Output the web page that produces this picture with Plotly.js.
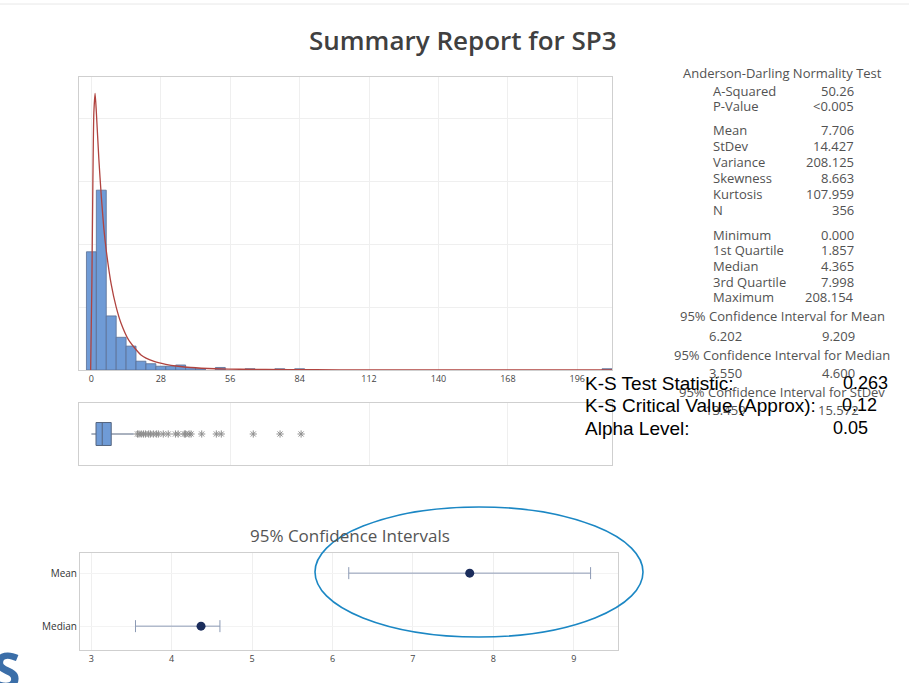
<!DOCTYPE html>
<html>
<head>
<meta charset="utf-8">
<script src="https://cdn.plot.ly/plotly-3.0.1.min.js"></script>
<style>html,body{margin:0;padding:0;background:#fff;}#chart{width:909px;height:683px;}</style>
</head>
<body>
<div id="chart"></div>
<script>
// ---------- data ----------
const chartTitle = "Summary Report for SP3";
// histogram (bin centres, width 4) and frequencies
const binCenters = [0, 4, 8, 12, 16, 20, 24, 28, 32, 36, 40, 44, 52, 64, 76, 84, 208];
const binCounts  = [94, 143, 43, 26, 19, 7, 5, 3, 3, 4, 2, 1, 2, 1, 1, 1, 1];
// fitted density curve (scaled to frequency)
const fitX = [-0.3, 0.2, 0.6, 1.0, 1.5, 2.0, 3.0, 4.0, 5.0, 6.0, 8.0, 10, 12, 15, 20, 25, 30, 35, 40, 50, 60, 80, 100, 140, 210];
const fitY = [0, 70, 150, 205, 220, 205, 168, 138, 113, 95, 68, 50, 37, 24, 12, 7, 4.5, 3, 2, 1, 0.6, 0.3, 0.15, 0.05, 0.02];
const histTicks = [0, 28, 56, 84, 112, 140, 168, 196];
// box plot statistics
const boxMin = 0.0, boxQ1 = 1.857, boxMedian = 4.365, boxQ3 = 7.998, boxUpperWhisker = 17.1;
const outliers = [18.6, 19.2, 20.1, 21.0, 21.8, 23.1, 23.8, 25.0, 26.2, 27.0, 29.0, 31.0, 33.9, 35.0, 37.5, 38.0, 39.4, 40.2, 44.5, 50.4, 52.4, 65.3, 76.1, 84.6];
// confidence intervals
const ciCategories = ["Median", "Mean"];
const ciEstimate = [4.365, 7.706];
const ciLower = [3.550, 6.202];
const ciUpper = [4.600, 9.209];
const ciTicks = [3, 4, 5, 6, 7, 8, 9];
// statistics table
const adTitle = "Anderson-Darling Normality Test";
const statLabels = ["A-Squared", "P-Value", "Mean", "StDev", "Variance", "Skewness", "Kurtosis", "N", "Minimum", "1st Quartile", "Median", "3rd Quartile", "Maximum"];
const statValues = ["50.26", "<0.005", "7.706", "14.427", "208.125", "8.663", "107.959", "356", "0.000", "1.857", "4.365", "7.998", "208.154"];
const ciTableTitles = ["95% Confidence Interval for Mean", "95% Confidence Interval for Median", "95% Confidence Interval for StDev"];
const ciTableLow = ["6.202", "3.550", "13.459"];
const ciTableHigh = ["9.209", "4.600", "15.572"];
// K-S overlay
const ksLabels = ["K-S Test Statistic:", "K-S Critical Value (Approx):", "Alpha Level:"];
const ksValues = ["0.263", "0.12", "0.05"];
const ciPanelTitle = "95% Confidence Intervals";

// ---------- layout helpers ----------
const W = 909, H = 683;
const px = x => x / W;
const py = y => 1 - y / H;
const tableFont = {family: "Open Sans, Noto Sans, sans-serif", size: 13, color: "#525252"};
const gridC = "#efefef", borderC = "#cfcfcf";

const traces = [];
traces.push({
  type: "bar", x: binCenters, y: binCounts, width: 4,
  marker: {color: "#6f9bd6", line: {color: "#5a6f93", width: 0.8}},
  xaxis: "x", yaxis: "y", hoverinfo: "skip"
});
traces.push({
  type: "scatter", mode: "lines", x: fitX, y: fitY,
  line: {color: "#b0433f", width: 1.3, shape: "spline", smoothing: 0.6},
  xaxis: "x", yaxis: "y", hoverinfo: "skip"
});
traces.push({
  type: "box", orientation: "h", y: [0],
  q1: [boxQ1], median: [boxMedian], q3: [boxQ3],
  lowerfence: [boxMin], upperfence: [boxUpperWhisker],
  width: 0.74, fillcolor: "#6f9bd6",
  line: {color: "#55657f", width: 1}, whiskerwidth: 0,
  xaxis: "x2", yaxis: "y2", hoverinfo: "skip", boxpoints: false
});
traces.push({
  type: "scatter", mode: "markers", x: outliers, y: outliers.map(() => 0),
  marker: {symbol: "asterisk-open", size: 6, color: "#8f8f8f", line: {color: "#8f8f8f", width: 1}},
  xaxis: "x2", yaxis: "y2", hoverinfo: "skip"
});
traces.push({
  type: "scatter", mode: "markers", x: ciEstimate, y: ciCategories,
  error_x: {type: "data", symmetric: false,
    array: ciUpper.map((u, i) => u - ciEstimate[i]),
    arrayminus: ciLower.map((l, i) => ciEstimate[i] - l),
    color: "#8c9ab5", thickness: 1, width: 6},
  marker: {size: 9, color: "#1b2d5c"},
  xaxis: "x3", yaxis: "y3", hoverinfo: "skip"
});

const annotations = [];
annotations.push({text: chartTitle, x: px(463), y: py(40), xref: "paper", yref: "paper", showarrow: false,
  font: {family: "Open Sans, Noto Sans, sans-serif", size: 26, color: "#404040", weight: 600}, xanchor: "center", yanchor: "middle"});
annotations.push({text: adTitle, x: px(782), y: py(73), xref: "paper", yref: "paper", showarrow: false, font: tableFont, xanchor: "center", yanchor: "middle"});
const statY = [91, 106, 130, 146, 162, 178, 194, 210, 235, 250, 266, 282, 297];
statLabels.forEach((l, i) => {
  annotations.push({text: l, x: px(711), y: py(statY[i]), xref: "paper", yref: "paper", showarrow: false, font: tableFont, xanchor: "left", yanchor: "middle"});
  annotations.push({text: statValues[i], x: px(856), y: py(statY[i]), xref: "paper", yref: "paper", showarrow: false, font: tableFont, xanchor: "right", yanchor: "middle"});
});
const ciTitleY = [316, 355, 392], ciValY = [336, 373, 410];
ciTableTitles.forEach((t, i) => {
  annotations.push({text: t, x: px(782), y: py(ciTitleY[i]), xref: "paper", yref: "paper", showarrow: false, font: tableFont, xanchor: "center", yanchor: "middle"});
  annotations.push({text: ciTableLow[i], x: px(725), y: py(ciValY[i]), xref: "paper", yref: "paper", showarrow: false, font: tableFont, xanchor: "center", yanchor: "middle"});
  annotations.push({text: ciTableHigh[i], x: px(838), y: py(ciValY[i]), xref: "paper", yref: "paper", showarrow: false, font: tableFont, xanchor: "center", yanchor: "middle"});
});
const ksY = [383, 405, 428], ksValX = [841, 840, 831];
ksLabels.forEach((l, i) => {
  annotations.push({text: l, x: px(583), y: py(ksY[i]), xref: "paper", yref: "paper", showarrow: false,
    font: {family: "Liberation Sans, Arial, sans-serif", size: 19, color: "#000"}, xanchor: "left", yanchor: "middle"});
  annotations.push({text: ksValues[i], x: px(ksValX[i]), y: py(ksY[i]), xref: "paper", yref: "paper", showarrow: false,
    font: {family: "Liberation Sans, Arial, sans-serif", size: 18, color: "#000"}, xanchor: "left", yanchor: "middle"});
});
annotations.push({text: ciPanelTitle, x: px(350), y: py(535), xref: "paper", yref: "paper", showarrow: false,
  font: {family: "Open Sans, Noto Sans, sans-serif", size: 17, color: "#555"}, xanchor: "center", yanchor: "middle"});
annotations.push({text: "<b>S</b>", x: px(-9), y: py(670), xref: "paper", yref: "paper", showarrow: false,
  font: {family: "Open Sans, sans-serif", size: 50, color: "#3b6ea8"}, xanchor: "left", yanchor: "middle"});

const tickFont = {family: "Open Sans, Noto Sans, sans-serif", size: 9, color: "#444"};
const layout = {
  width: W, height: H, margin: {l: 0, r: 0, t: 0, b: 0, autoexpand: false},
  paper_bgcolor: "#fff", plot_bgcolor: "#fff", showlegend: false, bargap: 0,
  xaxis: {domain: [px(79), px(612)], range: [-5, 210], tickvals: histTicks, ticks: "", tickfont: tickFont,
    showgrid: true, gridcolor: gridC, zeroline: false, showline: true, mirror: true, linecolor: borderC, anchor: "y"},
  yaxis: {domain: [py(370), py(77)], range: [0, 233], tickvals: [50, 100, 150, 200], showticklabels: false, ticks: "",
    showgrid: true, gridcolor: gridC, zeroline: false, showline: true, mirror: true, linecolor: borderC, anchor: "x"},
  xaxis2: {domain: [px(79), px(612)], range: [-5, 210], tickvals: [56, 112, 168], showticklabels: false, ticks: "",
    showgrid: true, gridcolor: gridC, zeroline: false, showline: true, mirror: true, linecolor: borderC, anchor: "y2"},
  yaxis2: {domain: [py(465), py(403)], range: [-1, 1], showticklabels: false, ticks: "", showgrid: false,
    zeroline: false, showline: true, mirror: true, linecolor: borderC, anchor: "x2"},
  xaxis3: {domain: [px(80), px(618)], range: [2.86, 9.55], tickvals: ciTicks, ticks: "", tickfont: tickFont,
    showgrid: true, gridcolor: gridC, zeroline: false, showline: true, mirror: true, linecolor: borderC, anchor: "y3"},
  yaxis3: {domain: [py(650), py(553)], type: "category", categoryorder: "array", categoryarray: ciCategories,
    range: [-0.45, 1.38], ticks: "", tickfont: {family: "Open Sans, Noto Sans, sans-serif", size: 10, color: "#333"},
    showgrid: true, gridcolor: "#f3f3f3",
    zeroline: false, showline: true, mirror: true, linecolor: borderC, anchor: "x3"},
  annotations: annotations,
  shapes: [
    {type: "line", xref: "paper", yref: "paper", x0: 0, x1: 1, y0: py(4), y1: py(4), line: {color: "#e8e8e8", width: 1}},
    {type: "circle", xref: "paper", yref: "paper", x0: px(315), x1: px(643), y0: py(637), y1: py(507),
      line: {color: "#1b87c4", width: 1.6}}
  ]
};
Plotly.newPlot("chart", traces, layout, {staticPlot: true, displayModeBar: false});
</script>
</body>
</html>
